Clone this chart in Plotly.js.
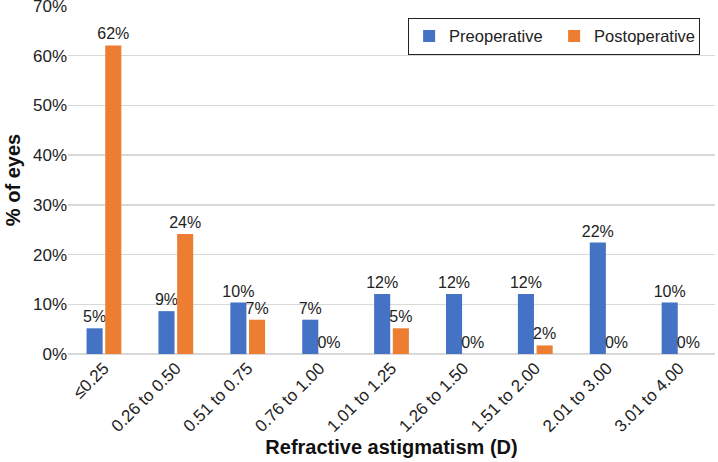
<!DOCTYPE html>
<html>
<head>
<meta charset="utf-8">
<script src="https://cdn.plot.ly/plotly-3.0.1.min.js"></script>
<style>html,body{margin:0;padding:0;background:#fff;}#chart{width:718px;height:462px;}</style>
</head>
<body>
<div id="chart"></div>
<script>
const categories = ["≤0.25", "0.26 to 0.50", "0.51 to 0.75", "0.76 to 1.00", "1.01 to 1.25", "1.26 to 1.50", "1.51 to 2.00", "2.01 to 3.00", "3.01 to 4.00"];
const preoperative = [5.17, 8.62, 10.34, 6.90, 12.07, 12.07, 12.07, 22.41, 10.34];
const postoperative = [62.07, 24.14, 6.90, 0, 5.17, 0, 1.72, 0, 0];
const yTickValues = [0, 10, 20, 30, 40, 50, 60, 70];
const yTickLabels = ["0%", "10%", "20%", "30%", "40%", "50%", "60%", "70%"];

const fam = "Liberation Sans, Arial, sans-serif";
const txt = "#222";

const traces = [
  {type: "bar", name: "Preoperative", x: categories, y: preoperative,
   marker: {color: "#4472C4"}, texttemplate: "%{y:.0f}%", textposition: "outside", constraintext: "none",
   textfont: {family: fam, size: 16, color: txt}, cliponaxis: false, hoverinfo: "none"},
  {type: "bar", name: "Postoperative", x: categories, y: postoperative,
   marker: {color: "#ED7D31"}, texttemplate: "%{y:.0f}%", textposition: "outside", constraintext: "none",
   textfont: {family: fam, size: 16, color: txt}, cliponaxis: false, hoverinfo: "none"}
];

const layout = {
  width: 718, height: 462,
  margin: {l: 68, r: 3, t: 6, b: 108},
  paper_bgcolor: "#fff", plot_bgcolor: "#fff",
  font: {family: fam, size: 16, color: txt},
  barmode: "group", bargap: 0.48, bargroupgap: 0.14,
  showlegend: true,
  legend: {orientation: "h", x: 0.977, y: 0.966, xanchor: "right", yanchor: "top",
           bordercolor: "#222", borderwidth: 1, font: {family: fam, size: 16.5, color: txt},
           itemwidth: 30, entrywidth: 100, traceorder: "normal", tracegroupgap: 0},
  xaxis: {tickangle: -45, showgrid: false, showline: false, ticks: "",
          tickfont: {family: fam, size: 17, color: txt},
          title: {text: "<b>Refractive astigmatism (D)</b>", font: {family: fam, size: 20, color: "#111"}, standoff: 5}},
  yaxis: {range: [0, 70], tickmode: "array", tickvals: yTickValues, ticktext: yTickLabels, showgrid: true, gridcolor: "#d9d9d9", gridwidth: 1.5,
          zeroline: true, zerolinecolor: "#d9d9d9", zerolinewidth: 1.5, showline: false, ticks: "",
          ticklabeloverflow: "allow",
          tickfont: {family: fam, size: 17, color: txt},
          title: {text: "<b>% of eyes</b>", font: {family: fam, size: 20, color: "#111"}, standoff: 6}}
};

Plotly.newPlot("chart", traces, layout, {displayModeBar: false, staticPlot: true});
</script>
</body>
</html>
